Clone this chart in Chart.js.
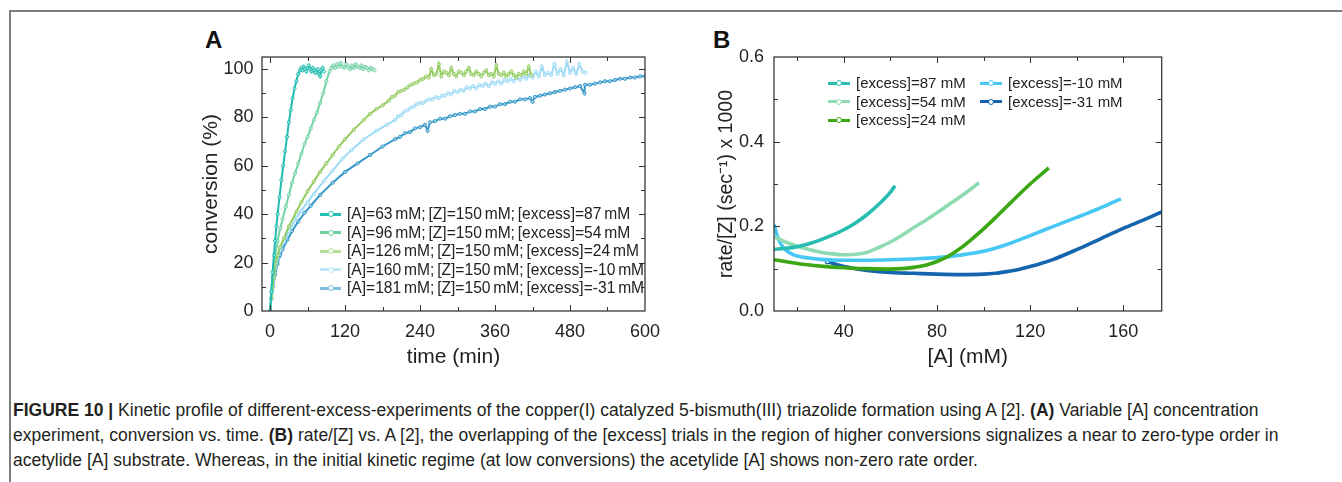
<!DOCTYPE html>
<html><head><meta charset="utf-8">
<script src="https://cdn.jsdelivr.net/npm/chart.js@4.4.0/dist/chart.umd.min.js"></script>
<style>
html,body{margin:0;padding:0;background:#fff;}
body{width:1342px;height:482px;position:relative;overflow:hidden;font-family:"Liberation Sans",Arial,sans-serif;color:#222;}
#frameTop{position:absolute;left:9px;top:10px;width:1333px;height:0;border-top:2px solid #7c7c7c;}
#frameLeft{position:absolute;left:9px;top:10px;width:0;height:472px;border-left:2px solid #7c7c7c;}
canvas{position:absolute;}
#cA{left:180px;top:20px;}
#cB{left:690px;top:20px;}
.plabel{position:absolute;font-weight:bold;font-size:24px;line-height:24px;color:#111;}
.lrow{position:absolute;white-space:nowrap;height:20px;line-height:20px;color:#222;}
#caption{position:absolute;left:13px;top:398px;font-size:17.5px;line-height:25px;color:#231f20;white-space:nowrap;}
#caption b{font-weight:bold;}
</style>
</head><body>
<div id="frameTop"></div><div id="frameLeft"></div>
<div class="plabel" style="left:205px;top:28px;">A</div>
<div class="plabel" style="left:713px;top:28px;">B</div>
<canvas id="cA" width="490" height="360"></canvas>
<canvas id="cB" width="490" height="360"></canvas>
<div id="legA"></div><div id="legB"></div>
<div id="caption"><b>FIGURE 10 |</b> Kinetic profile of different-excess-experiments of the copper(I) catalyzed 5-bismuth(III) triazolide formation using A [2]. <b>(A)</b> Variable [A] concentration<br>experiment, conversion vs. time. <b>(B)</b> rate/[Z] vs. A [2], the overlapping of the [excess] trials in the region of higher conversions signalizes a near to zero-type order in<br>acetylide [A] substrate. Whereas, in the initial kinetic regime (at low conversions) the acetylide [A] shows non-zero rate order.</div>
<script>
// ---------------- Panel A data: conversion (%) vs time (min) ----------------
const labelsA = [
  "[A]=63 mM; [Z]=150 mM; [excess]=87 mM",
  "[A]=96 mM; [Z]=150 mM; [excess]=54 mM",
  "[A]=126 mM; [Z]=150 mM; [excess]=24 mM",
  "[A]=160 mM; [Z]=150 mM; [excess]=-10 mM",
  "[A]=181 mM; [Z]=150 mM; [excess]=-31 mM"
];
const colorsA = ["#1fbcaf", "#72d3a6", "#92cb5e", "#9cdaf5", "#3598c9"];
const legendColorsA = ["#22c0b3", "#6fd0a0", "#b5df97", "#bfe8f8", "#7fbfdf"];

const t63 = [0,2,4,6,8,10,12,15,18,21,24,27,30,33,36,39,42,45,48,50,52,54,56,58,60,62,64,66,68,70,72,74,76,78,80,82,84,86];
const c63 = [0,8,16,23,29,35,40,47,54,60,66,72,78,83,88,92,95,98,99.5,100.5,99.5,101,100,99,100.5,101.5,100,99,100.5,99.5,98.5,99.5,100,98,97,99.5,100.5,99];

const t96 = [0,2,4,6,8,12,16,20,25,30,35,40,45,50,55,60,65,70,75,80,85,90,95,98,101,104,107,110,113,116,119,122,125,128,131,134,137,140,143,146,149,152,155,158,161,164,167];
const c96 = [0,8,14,19,23,29,34,38,43,48,53,57,61,65,69,72,75.5,79,82,86,90,95,99,100.5,101.5,100.5,102,101,102.5,101,100.5,102,101,100,101.5,100.5,102,101,100.5,101.5,100,101,100.5,99.5,100.5,100,99.5];

const t126 = [0,2,4,6,9,12,16,22,30,42,50,60,70,80,90,100,110,120,134,150,160,170,180,190,195,200,205,210,215,220,225,230,235,240,245,250,254,258,262,266,270,274,278,282,286,290,294,298,302,306,310,314,318,322,326,330,334,338,342,346,350,354,358,362,366,370,374,378,382,386,390,394,398,402,406,410,414,418];
const c126 = [0,5.5,10,14,19.5,23,26.5,30,35,41,45,49.5,53.5,57.5,61,64.5,68,71,75,79,81.5,83.5,85,87,88.5,89,90.5,91,91.5,92.5,93.5,94,94.5,95.5,96,97,96.5,100,97.5,98,102,97,99,98.5,97.5,100.5,98,97,99,98.5,97.5,99,100.5,98,97.5,99,98,97,98.5,99.5,97.5,98,97,101.5,98,97.5,98.5,97,98,99,97.5,96.5,98,97.5,99,98,101,97.5];

const t160 = [0,2,5,9,12,16,22,30,42,50,60,70,87,100,116,130,150,170,187,200,205,210,215,220,225,230,235,240,245,250,255,260,265,270,275,280,285,290,295,300,305,310,315,320,325,330,335,340,345,350,355,360,365,370,375,380,385,390,395,400,405,410,415,420,425,430,435,440,445,450,455,460,465,470,475,480,485,490,495,500,505];
const c160 = [0,5,10,18,21.5,25,28.5,33,38.5,41.5,45,48.5,54,58,63,66.5,71,74.5,77,79,80.5,81,82.5,83,84,84.5,85.5,86,86,87,87.5,87.5,88.5,88,89,89,90,89.5,91,90.5,91.5,91,92.5,92,93,92,93.5,93,94,93,94.5,94,95,94,95.5,95,96,95,96.5,95.5,97,96,97.5,96.5,99,97,101,97.5,98.5,97.5,102,98,100,97.5,103,98.5,100.5,98,102,99,98.5];

const t181 = [0,2,5,8,12,16,20,28,35,45,55,65,80,100,120,140,160,180,200,208,216,224,232,240,248,252,256,264,272,280,288,296,304,312,320,328,336,344,352,360,368,376,384,392,400,408,416,420,424,432,440,448,456,464,472,480,488,496,503,504,512,520,528,536,544,552,560,568,576,584,592,600];
const c181 = [0,5,10,15,19.5,23,25.5,29.5,33,37,40.5,43.5,48,53,57.5,61,64.5,68,71,72,73.5,74,75.5,76,77,74.5,78,78.5,79.5,79.5,80.5,81,81.5,81.5,82.5,82.5,83.5,83.5,84.5,84.5,85.5,85.5,86.5,86.5,87.5,87.5,88,86.5,88.5,89,89.5,90,90.5,91,91.5,92,92.5,93,90,93.5,93.5,94,94.5,95,95,95.5,96,96,96.5,96.5,97,97];

const timesA = [t63, t96, t126, t160, t181];
const convA = [c63, c96, c126, c160, c181];
const xTicksA = [0,120,240,360,480,600];
const xMinorA = [60,180,300,420,540];
const yTicksA = [0,20,40,60,80,100];
const yMinorA = [10,30,50,70,90];

// ---------------- Panel B data: rate/[Z] vs [A] ----------------
const labelsB = ["[excess]=87 mM","[excess]=54 mM","[excess]=24 mM","[excess]=-10 mM","[excess]=-31 mM"];
const colorsB = ["#28bdb1", "#8fdcb3", "#3ba712", "#46c7f4", "#1565ae"];

const aB87 = [10,15,20,25,30,35,40,45,50,55,60,62];
const rB87 = [0.146,0.148,0.152,0.159,0.168,0.179,0.192,0.208,0.228,0.252,0.281,0.296];
const aB54 = [10,15,20,25,30,35,40,45,50,55,60,65,70,75,80,85,90,95,98];
const rB54 = [0.176,0.163,0.153,0.145,0.139,0.135,0.133,0.134,0.139,0.15,0.163,0.179,0.197,0.214,0.232,0.251,0.27,0.29,0.303];
const aB24 = [10,20,30,40,50,60,65,70,75,80,85,90,95,100,105,110,115,120,125,128];
const rB24 = [0.121,0.112,0.106,0.102,0.1,0.099,0.1,0.103,0.108,0.117,0.13,0.148,0.17,0.194,0.22,0.247,0.274,0.3,0.324,0.338];
const aBm10 = [10,11,12,14,16,18,20,25,30,40,50,60,70,80,90,100,110,120,130,140,150,159];
const rBm10 = [0.205,0.185,0.168,0.15,0.14,0.134,0.13,0.125,0.122,0.12,0.12,0.121,0.123,0.126,0.132,0.141,0.157,0.178,0.2,0.221,0.243,0.265];
const aBm31 = [33,36,40,45,50,60,70,80,90,100,105,110,115,120,125,130,140,150,160,170,176.5];
const rBm31 = [0.117,0.111,0.105,0.1,0.096,0.091,0.089,0.087,0.086,0.087,0.089,0.093,0.098,0.105,0.113,0.122,0.145,0.17,0.195,0.218,0.234];

const concB = [aB87, aB54, aB24, aBm10, aBm31];
const rateB = [rB87, rB54, rB24, rBm10, rBm31];
const xTicksB = [40,80,120,160];
const xMinorB = [20,60,100,140];
const yTicksB = [0,0.2,0.4,0.6];
const yMinorB = [0.1,0.3,0.5];

// ---------------- helpers ----------------
const FAM = '"Liberation Sans", Arial, sans-serif';

const frameTicks = {
  id: 'frameTicks',
  afterDatasetsDraw(chart, args, o) {
    const {ctx, chartArea: a} = chart;
    const xs = chart.scales.x, ys = chart.scales.y;
    ctx.save();
    ctx.strokeStyle = '#333';
    ctx.lineWidth = 1;
    ctx.beginPath();
    const xt = (vals, len) => vals.forEach(v => {
      const p = Math.round(xs.getPixelForValue(v)) + 0.5;
      ctx.moveTo(p, a.bottom); ctx.lineTo(p, a.bottom - len);
      ctx.moveTo(p, a.top); ctx.lineTo(p, a.top + len);
    });
    const yt = (vals, len) => vals.forEach(v => {
      const p = Math.round(ys.getPixelForValue(v)) + 0.5;
      ctx.moveTo(a.left, p); ctx.lineTo(a.left + len, p);
      ctx.moveTo(a.right, p); ctx.lineTo(a.right - len, p);
    });
    xt(o.xMajor.filter(v => v > xs.min && v < xs.max), 6);
    xt(o.xMinor, 4);
    yt(o.yMajor.filter(v => v > ys.min && v < ys.max), 6);
    yt(o.yMinor, 4);
    ctx.stroke();
    ctx.lineWidth = 1.3;
    ctx.strokeStyle = '#3a3a3a';
    ctx.strokeRect(a.left, a.top, a.right - a.left, a.bottom - a.top);
    ctx.restore();
  }
};

function axisX(min, max, ticks, fmt, title, padBottom) {
  return {
    type: 'linear', min, max,
    afterBuildTicks: s => { s.ticks = ticks.map(v => ({value: v})); },
    afterFit: s => { s.height = 69; },
    grid: {display: false, drawTicks: false}, border: {display: false},
    ticks: {font: {size: 18, family: FAM}, color: '#222', padding: 10, maxRotation: 0, autoSkip: false, callback: fmt},
    title: {display: true, text: title, font: {size: 21, family: FAM}, color: '#222', padding: {top: 0, bottom: padBottom}}
  };
}
function axisY(min, max, ticks, fmt, title, width, tickPad, titlePad, titleSize) {
  return {
    type: 'linear', min, max,
    afterBuildTicks: s => { s.ticks = ticks.map(v => ({value: v})); },
    afterFit: s => { s.width = width; },
    grid: {display: false, drawTicks: false}, border: {display: false},
    ticks: {font: {size: 18, family: FAM}, color: '#222', padding: tickPad, autoSkip: false, callback: fmt},
    title: {display: true, text: title, font: {size: titleSize, family: FAM}, color: '#222', padding: {top: titlePad, bottom: 0}}
  };
}

// ---------------- Chart A ----------------
new Chart(document.getElementById('cA'), {
  type: 'line',
  data: {
    datasets: labelsA.map((lab, i) => ({
      label: lab,
      data: timesA[i].map((t, j) => ({x: t, y: convA[i][j]})),
      borderColor: colorsA[i], backgroundColor: colorsA[i],
      borderWidth: 2, pointRadius: 1.6, pointBorderWidth: 1,
      pointBackgroundColor: 'rgba(255,255,255,0.5)', pointBorderColor: colorsA[i],
      tension: 0, fill: false
    }))
  },
  options: {
    responsive: false, animation: false, devicePixelRatio: 1,
    layout: {padding: {left: 0, top: 37, right: 20, bottom: 0}},
    plugins: {legend: {display: false}, tooltip: {enabled: false},
      frameTicks: {xMajor: xTicksA, xMinor: xMinorA, yMajor: yTicksA, yMinor: yMinorA}},
    scales: {
      x: axisX(-13, 600, xTicksA, v => String(v), 'time (min)', 10),
      y: axisY(0, 105, yTicksA, v => String(v), 'conversion (%)', 82, 8.5, 19, 21)
    }
  },
  plugins: [frameTicks]
});

// ---------------- Chart B ----------------
new Chart(document.getElementById('cB'), {
  type: 'line',
  data: {
    datasets: labelsB.map((lab, i) => ({
      label: lab,
      data: concB[i].map((a, j) => ({x: a, y: rateB[i][j]})),
      borderColor: colorsB[i], backgroundColor: '#fff',
      borderWidth: 3.6, cubicInterpolationMode: 'monotone', fill: false,
      pointRadius: c => (i === 4 && c.dataIndex === 0) ? 2.2 : 0,
      pointBorderWidth: 1.2, pointBorderColor: colorsB[i], pointBackgroundColor: '#fff'
    }))
  },
  options: {
    responsive: false, animation: false, devicePixelRatio: 1,
    layout: {padding: {left: 0, top: 37, right: 18.3, bottom: 0}},
    plugins: {legend: {display: false}, tooltip: {enabled: false},
      frameTicks: {xMajor: xTicksB, xMinor: xMinorB, yMajor: yTicksB, yMinor: yMinorB}},
    scales: {
      x: axisX(10, 176.5, xTicksB, v => String(v), '[A] (mM)', 10),
      y: axisY(0, 0.6, yTicksB, v => v.toFixed(1), 'rate/[Z] (sec\u207B\u00B9) x 1000', 84, 10, 25, 19.5)
    }
  },
  plugins: [frameTicks]
});

// ---------------- HTML legends ----------------
function legendItem(parent, x, yc, color, text, fs, lineW, ws) {
  const row = document.createElement('div');
  row.className = 'lrow';
  row.style.left = x + 'px';
  row.style.top = (yc - 10) + 'px';
  row.style.fontSize = fs + 'px';
  row.style.wordSpacing = ws + 'px';
  row.style.paddingLeft = (lineW + 6) + 'px';
  const ln = document.createElement('span');
  ln.style.cssText = `position:absolute;left:0;top:8.5px;width:${lineW}px;height:3px;background:${color}`;
  const dot = document.createElement('span');
  dot.style.cssText = `position:absolute;left:${lineW / 2 - 3}px;top:7px;width:4px;height:4px;border:1px solid ${color};border-radius:50%;background:#fff`;
  row.appendChild(ln); row.appendChild(dot);
  row.appendChild(document.createTextNode(text));
  parent.appendChild(row);
}
const legA = document.getElementById('legA');
labelsA.forEach((lab, i) => legendItem(legA, 320, 214 + i * 18.5, legendColorsA[i], lab, 15.6, 21, -1.5));
const legB = document.getElementById('legB');
labelsB.forEach((lab, i) => {
  const col = i < 3 ? 0 : 1, row = i < 3 ? i : i - 3;
  legendItem(legB, col ? 980 : 828, 83.3 + row * 18.5, colorsB[i], lab, 15, 22, 0);
});
</script>
</body></html>
